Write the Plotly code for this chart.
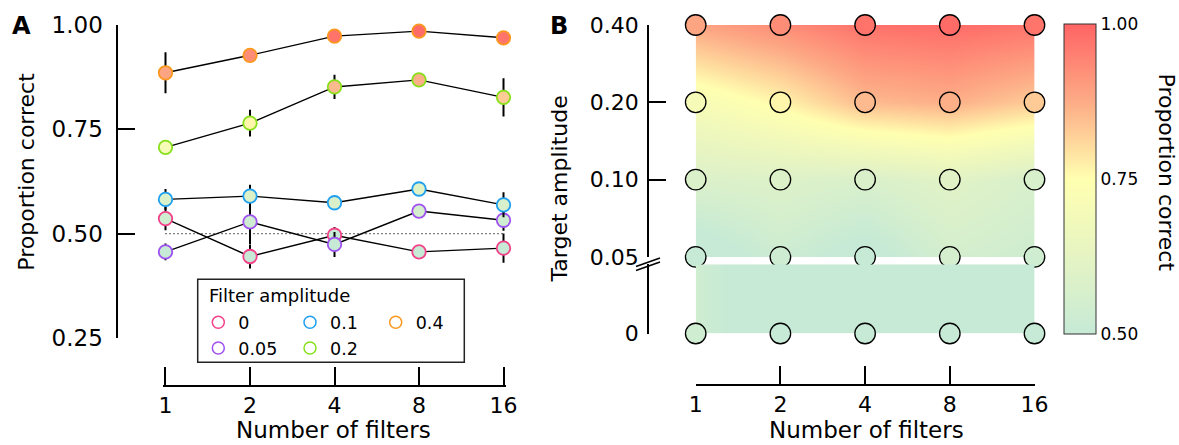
import plotly.graph_objects as go

W, H = 1179, 445


def px(x):
    return x / W


def py(y):
    return 1 - y / H


# ---------------- data ----------------
FILTERS = ["1", "2", "4", "8", "16"]
AMPLITUDES = ["0", "0.05", "0.1", "0.2", "0.4"]
TARGET_VALUES = [0, 0.05, 0.10, 0.20, 0.40]
TARGET_LABELS = ["0", "0.05", "0.10", "0.20", "0.40"]

PC_0 = [0.536, 0.445, 0.496, 0.456, 0.465]
PC_005 = [0.456, 0.528, 0.474, 0.554, 0.532]
PC_01 = [0.582, 0.590, 0.574, 0.607, 0.569]
PC_02 = [0.707, 0.765, 0.852, 0.869, 0.827]
PC_04 = [0.886, 0.928, 0.974, 0.986, 0.970]

ERR_0 = [0.028, 0.029, 0.020, 0.015, 0.035]
ERR_005 = [0.020, 0.053, 0.030, 0.015, 0.025]
ERR_01 = [0.025, 0.027, 0.017, 0.012, 0.030]
ERR_02 = [0.012, 0.032, 0.029, 0.012, 0.046]
ERR_04 = [0.049, 0.010, 0.008, 0.006, 0.008]

CHANCE = 0.5
CB_TICKS = [0.5, 0.75, 1.0]
CB_TICKTEXT = ["0.50", "0.75", "1.00"]
Y_TICKS_A = [0.25, 0.5, 0.75, 1.0]
Y_TICKTEXT_A = ["0.25", "0.50", "0.75", "1.00"]

# ---------------- styles ----------------
SERIES_COLORS = ["#f2438a", "#a052f0", "#1fa0f0", "#88e01c", "#fb9820"]
LEGEND_SLOTS = ["legend", "legend", "legend2", "legend2", "legend3"]
COLORSCALE = [
    [0.0, "#c6ead6"],
    [0.25, "#e6f4c3"],
    [0.5, "#ffffb0"],
    [0.75, "#fdab86"],
    [1.0, "#ff6464"],
]
FONT = "DejaVu Sans"

PC_SERIES = [PC_0, PC_005, PC_01, PC_02, PC_04]
ERR_SERIES = [ERR_0, ERR_005, ERR_01, ERR_02, ERR_04]

# panel A x range padded slightly so edge error bars are not clipped
A_PAD = 0.03
A_STEP = 84.5  # px per category step

fig = go.Figure()

# ---------------- panel A ----------------
fig.add_trace(go.Scatter(
    x=[FILTERS[0], FILTERS[-1]], y=[CHANCE, CHANCE], mode="lines",
    line=dict(color="black", width=1.2, dash="1px,3px"),
    showlegend=False, hoverinfo="skip", xaxis="x", yaxis="y"))

for amp, pc, err, col in zip(AMPLITUDES, PC_SERIES, ERR_SERIES, SERIES_COLORS):
    fig.add_trace(go.Scatter(
        x=FILTERS, y=pc, mode="lines+markers", name=amp,
        line=dict(color="black", width=1.4),
        marker=dict(size=13.5, color=pc, colorscale=COLORSCALE, cmin=0.5, cmax=1.0,
                    line=dict(color=col, width=1.8)),
        error_y=dict(type="data", array=err, visible=True, color="black",
                     thickness=2, width=0),
        cliponaxis=False, showlegend=False, xaxis="x", yaxis="y"))

# legend entries (open circles)
for amp, col, lg in zip(AMPLITUDES, SERIES_COLORS, LEGEND_SLOTS):
    fig.add_trace(go.Scatter(
        x=[None], y=[None], mode="markers", name=amp, legend=lg,
        marker=dict(symbol="circle-open", size=12, color=col, line=dict(width=1.5)),
        showlegend=True, xaxis="x", yaxis="y"))

# ---------------- panel B ----------------
Z_UPPER = [PC_005, PC_01, PC_02, PC_04]
fig.add_trace(go.Heatmap(
    x=FILTERS, y=TARGET_LABELS[1:], z=Z_UPPER, zsmooth="best",
    colorscale=COLORSCALE, zmin=0.5, zmax=1.0, hoverinfo="skip",
    colorbar=dict(
        x=px(1064.3), xanchor="left", xpad=0, ypad=0,
        y=py(24.3), yanchor="top", len=310, lenmode="pixels",
        thickness=32.4, thicknessmode="pixels",
        outlinewidth=1, outlinecolor="#333333",
        tickvals=CB_TICKS, ticktext=CB_TICKTEXT, ticks="",
        tickfont=dict(size=17, family=FONT, color="black")),
    xaxis="x2", yaxis="y2"))

fig.add_trace(go.Heatmap(
    x=FILTERS, y0=TARGET_VALUES[0], dy=2, z=[PC_0], zsmooth="best",
    colorscale=COLORSCALE, zmin=0.5, zmax=1.0, showscale=False, hoverinfo="skip",
    xaxis="x2", yaxis="y3"))

for lab, pc in zip(TARGET_LABELS[1:], Z_UPPER):
    fig.add_trace(go.Scatter(
        x=FILTERS, y=[lab] * len(FILTERS), mode="markers",
        marker=dict(size=20.5, color=pc, colorscale=COLORSCALE, cmin=0.5, cmax=1.0,
                    line=dict(color="black", width=1.3)),
        cliponaxis=False, showlegend=False, xaxis="x2", yaxis="y2"))

fig.add_trace(go.Scatter(
    x=FILTERS, y=[TARGET_VALUES[0]] * len(FILTERS), mode="markers",
    marker=dict(size=20.5, color=PC_0, colorscale=COLORSCALE, cmin=0.5, cmax=1.0,
                line=dict(color="black", width=1.3)),
    cliponaxis=False, showlegend=False, xaxis="x2", yaxis="y3"))

# ---------------- layout ----------------
axis_common = dict(showgrid=False, zeroline=False, showline=True, linecolor="black",
                   linewidth=1.8, ticks="inside", tickcolor="black", tickwidth=1.8,
                   fixedrange=True)

legend_common = dict(bgcolor="rgba(0,0,0,0)", borderwidth=0, orientation="v",
                     xanchor="left", yanchor="top",
                     font=dict(size=17.5, family=FONT, color="black"))

fig.update_layout(
    width=W, height=H, autosize=False,
    margin=dict(l=0, r=0, t=0, b=0, pad=0, autoexpand=False),
    paper_bgcolor="white", plot_bgcolor="white",
    font=dict(family=FONT, color="black"),
    showlegend=True,
    legend=dict(legend_common, x=px(198.3), y=py(304.4)),
    legend2=dict(legend_common, x=px(290.0), y=py(304.4)),
    legend3=dict(legend_common, x=px(375.7), y=py(304.4)),
    xaxis=dict(axis_common,
               domain=[px(165.5 - A_PAD * A_STEP), px(503.5 + A_PAD * A_STEP)],
               type="category", categoryorder="array", categoryarray=FILTERS,
               range=[-A_PAD, 4 + A_PAD],
               anchor="free", position=py(385.7), ticklen=18,
               tickfont=dict(size=22)),
    yaxis=dict(axis_common, domain=[py(337.7), py(25.3)], range=[0.25, 1.0],
               tickvals=Y_TICKS_A, ticktext=Y_TICKTEXT_A,
               anchor="free", position=px(117.3), ticklen=17,
               tickfont=dict(size=23), ticklabelstandoff=9),
    xaxis2=dict(axis_common, domain=[px(695.7), px(1034.5)], type="category",
                categoryorder="array", categoryarray=FILTERS, range=[0, 4],
                anchor="free", position=py(385.0), ticklen=18,
                tickfont=dict(size=22)),
    yaxis2=dict(axis_common, domain=[py(256.9), py(25.0)], type="category",
                categoryorder="array", categoryarray=TARGET_LABELS[1:], range=[0, 3],
                anchor="free", position=px(648.0), ticklen=17,
                tickfont=dict(size=22), ticklabelstandoff=4),
    yaxis3=dict(axis_common, domain=[py(333.5), py(264.3)], type="linear",
                range=[0, 0.895], tickvals=[TARGET_VALUES[0]], ticktext=[TARGET_LABELS[0]],
                anchor="free", position=px(648.0), ticklen=17,
                tickfont=dict(size=22), ticklabelstandoff=4),
)

annotations = [
    dict(text="<b>A</b>", x=px(21), y=py(26.3), font=dict(size=24)),
    dict(text="<b>B</b>", x=px(559), y=py(26.0), font=dict(size=24)),
    dict(text="Proportion correct", x=px(27), y=py(171.7), textangle=-90, font=dict(size=22)),
    dict(text="Number of filters", x=px(333.5), y=py(430.4), font=dict(size=23)),
    dict(text="Number of filters", x=px(866.3), y=py(430.4), font=dict(size=23)),
    dict(text="Target amplitude", x=px(558.5), y=py(189), textangle=-90, font=dict(size=22)),
    dict(text="Proportion correct", x=px(1166), y=py(172.5), textangle=90, font=dict(size=22)),
    dict(text="Filter amplitude", x=px(206.5), y=py(295.7), xanchor="left", font=dict(size=18)),
]
for a in annotations:
    a.setdefault("xanchor", "center")
    a.update(xref="paper", yref="paper", showarrow=False, yanchor="middle")
    a["font"].update(family=FONT, color="black")
fig.update_layout(annotations=annotations)

shapes = [
    dict(type="rect", xref="paper", yref="paper",
         x0=px(197.7), x1=px(464.3), y0=py(362.3), y1=py(279.3),
         line=dict(color="#222222", width=1.5)),
    dict(type="line", xref="paper", yref="paper",
         x0=px(636), y0=py(266.5), x1=px(660), y1=py(258.0),
         line=dict(color="black", width=1.5)),
    dict(type="line", xref="paper", yref="paper",
         x0=px(636), y0=py(270.5), x1=px(660), y1=py(262.0),
         line=dict(color="black", width=1.5)),
]
fig.update_layout(shapes=shapes)

fig.write_html("out.html")
